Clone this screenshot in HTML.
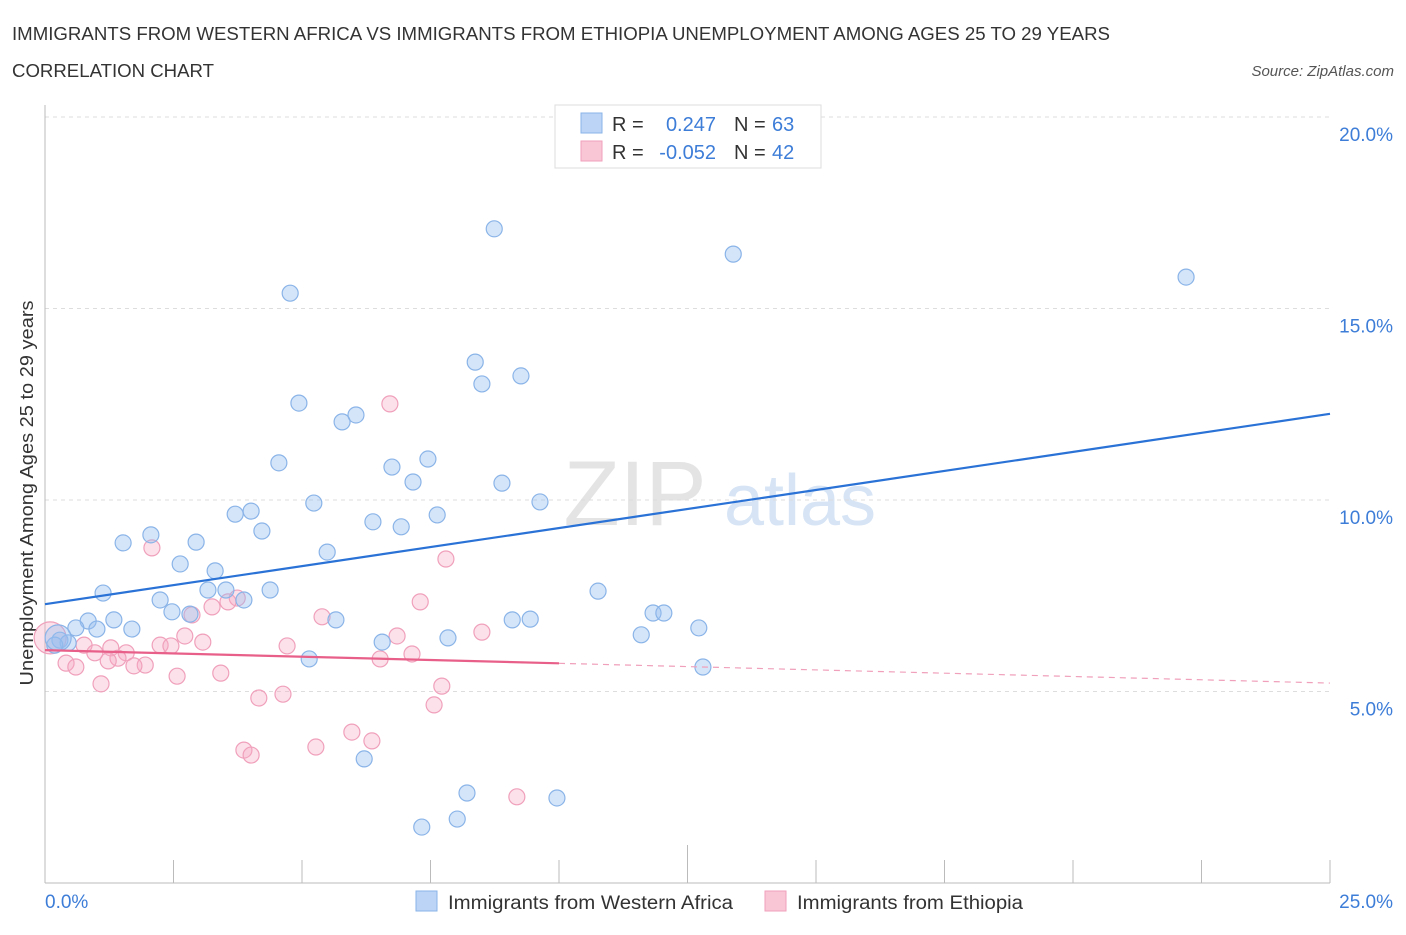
<!DOCTYPE html>
<html><head><meta charset="utf-8"><style>
body{margin:0;background:#fff;font-family:"Liberation Sans",sans-serif;}
svg text{font-family:"Liberation Sans",sans-serif;}
</style></head><body>
<svg id="chart" width="1406" height="930" xmlns="http://www.w3.org/2000/svg">
<text x="12" y="40" font-size="18" fill="#333" textLength="1098" lengthAdjust="spacingAndGlyphs">IMMIGRANTS FROM WESTERN AFRICA VS IMMIGRANTS FROM ETHIOPIA UNEMPLOYMENT AMONG AGES 25 TO 29 YEARS</text>
<text x="12" y="77" font-size="18" fill="#333" textLength="202" lengthAdjust="spacingAndGlyphs">CORRELATION CHART</text>
<text x="1394" y="76" font-size="15" fill="#555" text-anchor="end" font-style="italic">Source: ZipAtlas.com</text>
<g>
<text x="635" y="525" font-size="92" fill="#e4e4e4" text-anchor="middle" font-family="Liberation Serif">ZIP</text>
<text x="800" y="525" font-size="72" fill="#d6e4f5" text-anchor="middle">atlas</text>
</g>
<g id="grid"></g>
<g id="axes"></g>
<g id="pts"></g>
<g id="trend"></g>
<g>
<rect x="555" y="105" width="266" height="63" fill="#fff" stroke="#ddd"/>
<rect x="581" y="113" width="21" height="20" fill="#bcd4f5" stroke="#8ab4e8"/>
<rect x="581" y="141" width="21" height="20" fill="#f9c6d6" stroke="#f0a0bb"/>
<text x="612" y="131" font-size="20" fill="#333">R =</text>
<text x="716" y="131" font-size="20" fill="#3d7dd8" text-anchor="end">0.247</text>
<text x="734" y="131" font-size="20" fill="#333">N =</text>
<text x="772" y="131" font-size="20" fill="#3d7dd8">63</text>
<text x="612" y="159" font-size="20" fill="#333">R =</text>
<text x="716" y="159" font-size="20" fill="#3d7dd8" text-anchor="end">-0.052</text>
<text x="734" y="159" font-size="20" fill="#333">N =</text>
<text x="772" y="159" font-size="20" fill="#3d7dd8">42</text>
</g>
<g>
<rect x="416" y="891" width="21" height="20" fill="#bcd4f5" stroke="#8ab4e8"/>
<text x="448" y="909" font-size="19" fill="#333" textLength="285" lengthAdjust="spacingAndGlyphs">Immigrants from Western Africa</text>
<rect x="765" y="891" width="21" height="20" fill="#f9c6d6" stroke="#f0a0bb"/>
<text x="797" y="909" font-size="19" fill="#333" textLength="226" lengthAdjust="spacingAndGlyphs">Immigrants from Ethiopia</text>
</g>
</svg>
<script>
const blueX=[8.74,13.39,22.20,4.77,8.37,8.50,9.26,4.94,6.05,5.78,4.55,7.45,6.75,7.16,8.89,5.23,9.63,4.01,3.70,6.38,7.63,6.93,4.22,2.06,1.52,2.94,5.49,2.63,3.31,1.13,3.17,3.52,4.38,10.76,2.24,3.87,2.47,2.82,1.34,0.84,5.66,9.09,9.44,11.83,12.04,1.69,1.01,0.60,12.72,11.60,6.56,7.84,0.29,0.45,0.19,5.14,12.80,6.21,8.21,9.96,8.02,7.33,0.10];
const blueY=[17.08,16.42,15.82,15.40,13.60,13.03,13.24,12.53,12.22,12.04,10.97,11.07,10.86,10.47,10.44,9.92,9.95,9.71,9.63,9.43,9.61,9.30,9.19,9.09,8.88,8.90,8.64,8.33,8.15,7.57,7.65,7.65,7.65,7.62,7.39,7.39,7.08,7.02,6.87,6.84,6.87,6.87,6.89,7.05,7.05,6.63,6.63,6.66,6.66,6.48,6.29,6.40,6.34,6.27,6.21,5.85,5.64,3.24,2.35,2.22,1.67,1.46,6.40];
const pinkX=[2.08,6.71,7.80,7.30,2.86,3.25,3.74,3.56,5.39,2.72,3.07,2.24,2.45,6.85,8.50,4.71,1.28,0.76,0.97,1.58,1.42,1.23,1.95,1.73,0.41,0.60,6.52,7.14,2.57,3.42,1.09,7.72,4.63,4.16,7.57,5.97,6.36,5.27,3.87,4.01,9.18,0.10];
const pinkY=[8.75,12.51,8.46,7.34,7.00,7.21,7.44,7.34,6.95,6.45,6.29,6.21,6.19,6.45,6.55,6.19,6.14,6.21,6.01,6.01,5.87,5.80,5.69,5.67,5.74,5.64,5.85,5.98,5.40,5.48,5.20,5.14,4.93,4.83,4.65,3.94,3.71,3.55,3.47,3.34,2.25,6.40];
const yTicks=[5,10,15,20];
const yTickLabels=["5.0%","10.0%","15.0%","20.0%"];
const xTicks=[2.5,5,7.5,10,12.5,15,17.5,20,22.5,25];
const blueTrend=[7.28,12.25];
const pinkTrend=[6.08,5.22];
const pinkSolidEnd=10;

const NS="http://www.w3.org/2000/svg";
const X=v=>45+v/25*1285;
const Y=v=>883-v/5*191.5;
function mk(tag,attrs,parent){const e=document.createElementNS(NS,tag);for(const k in attrs)e.setAttribute(k,attrs[k]);document.getElementById(parent).appendChild(e);return e;}
yTicks.forEach((t,i)=>{
 const l=mk('line',{x1:45,x2:1330,y1:Y(t),y2:Y(t),stroke:'#ddd','stroke-dasharray':'4,4'},'grid');
 
 
 const tx=mk('text',{x:1393,y:Y(t)+24,'font-size':19,fill:'#3d7dd8','text-anchor':'end'},'axes');
 tx.textContent=yTickLabels[i];
 
 
});
const ya=mk('line',{x1:45,x2:45,y1:105,y2:883,stroke:'#bbb'},'axes');


const xa=mk('line',{x1:45,x2:1330,y1:883,y2:883,stroke:'#bbb'},'axes');


xTicks.forEach(t=>{
 const l=mk('line',{x1:X(t),x2:X(t),y1:t==12.5?845:860,y2:883,stroke:'#bbb'},'axes');
 
 
});
const x0=mk('text',{x:45,y:908,'font-size':19,fill:'#3d7dd8'},'axes');x0.textContent='0.0%';


const x1=mk('text',{x:1393,y:908,'font-size':19,fill:'#3d7dd8','text-anchor':'end'},'axes');x1.textContent='25.0%';


const yt=mk('text',{x:0,y:0,'font-size':18,fill:'#333','text-anchor':'middle',textLength:385,lengthAdjust:'spacingAndGlyphs',transform:'translate(33,493) rotate(-90)'},'axes');
yt.textContent='Unemployment Among Ages 25 to 29 years';



pinkX.forEach((v,i)=>{
 const big=i==pinkX.length-1;
 const c=mk('circle',{cx:X(v),cy:Y(pinkY[i]),r:big?16:8,fill:'rgba(245,170,195,0.35)',stroke:'#f0a0bb','stroke-width':1.2},'pts');
 
 
});
blueX.forEach((v,i)=>{
 const big=i==blueX.length-1;
 const c=mk('circle',{cx:X(v)+(big?8:0),cy:Y(blueY[i]),r:big?13:8,fill:'rgba(150,190,240,0.4)',stroke:'#8ab4e8','stroke-width':1.2},'pts');
 
 
});
const bt=mk('line',{x1:X(0),y1:Y(blueTrend[0]),x2:X(25),y2:Y(blueTrend[1]),stroke:'#2a72d6','stroke-width':2.2},'trend');


const pm=pinkTrend[0]+(pinkTrend[1]-pinkTrend[0])*pinkSolidEnd/25;
const pt=mk('line',{x1:X(0),y1:Y(pinkTrend[0]),x2:X(pinkSolidEnd),y2:Y(pm),stroke:'#e8608a','stroke-width':2.2},'trend');


const pd=mk('line',{x1:X(pinkSolidEnd),y1:Y(pm),x2:X(25),y2:Y(pinkTrend[1]),stroke:'#f0a0bb','stroke-width':1.2,'stroke-dasharray':'6,5'},'trend');


</script>
</body></html>
